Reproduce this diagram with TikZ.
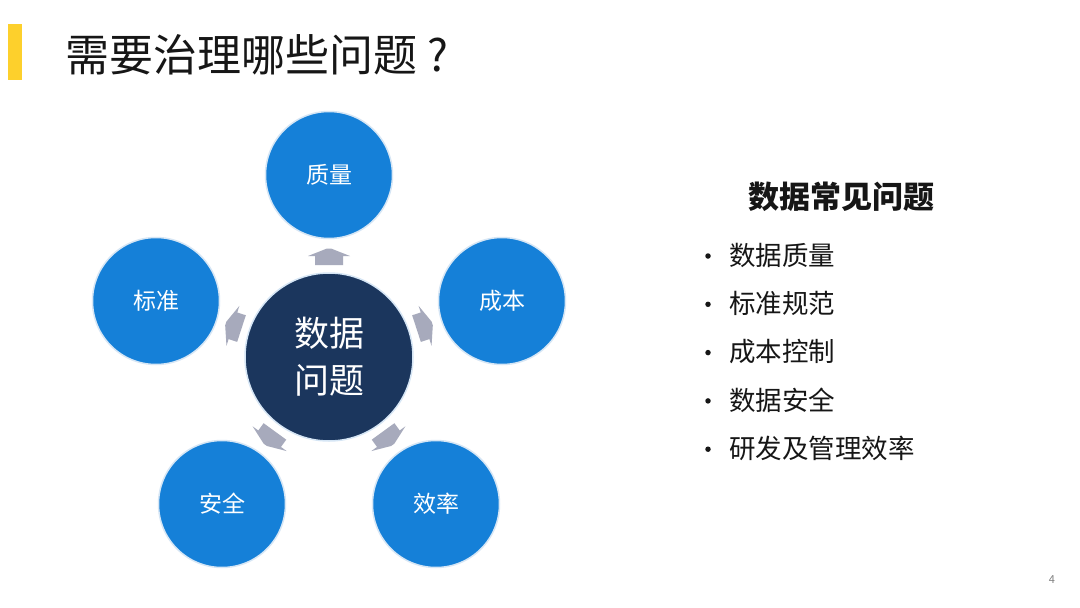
\documentclass[tikz,border=0pt]{standalone}
\usepackage{fontspec}
\setmainfont{Noto Sans CJK SC}
\definecolor{barY}{HTML}{FDD02C}
\definecolor{cblue}{HTML}{1580D8}
\definecolor{cborder}{HTML}{D6E6F5}
\definecolor{navy}{HTML}{1B365D}
\definecolor{agray}{HTML}{A7AABC}
\definecolor{txt}{HTML}{161616}
\tikzset{
  outer/.style={circle, fill=cblue, draw=cborder, line width=1.5pt, minimum size=127pt, inner sep=0pt, text=white, font=\fontsize{23}{26}\selectfont},
  core/.style={circle, fill=navy, draw=cborder, line width=1.5pt, minimum size=168pt, inner sep=0pt, text=white, align=center, font=\fontsize{35}{47}\selectfont},
  blockarrow/.style={fill=agray, draw=none},
  item/.style={anchor=west, inner sep=0pt, text=txt, font=\fontsize{26.5}{30}\selectfont},
  dot/.style={circle, fill=txt, minimum size=5.5pt, inner sep=0pt}
}
\begin{document}
\begin{tikzpicture}[x=1pt,y=-1pt]
\useasboundingbox[fill=white] (0,0) rectangle (1080,608);
% title
\fill[barY] (8,24) rectangle (22,80);
\node[anchor=west, inner sep=0pt, text=txt, font=\fontsize{44}{50}\selectfont] (title) at (65,55) {需要治理哪些问题\hspace{10pt}?};
% circles
\node[core] (c) at (329,357) {数据\\问题};
\node[outer] (q) at (329,175) {质量};
\node[outer] (b) at (502,301) {成本};
\node[outer] (s) at (156,301) {标准};
\node[outer] (a) at (222,504) {安全};
\node[outer] (e) at (436,504) {效率};
% block arrows
\foreach \r in {0,72,-72,144,-144}{
  \begin{scope}[shift={(c.center)}, rotate=\r]
    \fill[blockarrow] (-14,-92) -- (-14,-101) -- (-21,-101) -- (-2,-108.5) -- (2,-108.5) -- (21,-101) -- (14,-101) -- (14,-92) -- cycle;
  \end{scope}
}
% right list
\node[inner sep=0pt, text=txt, font=\fontsize{31}{34}\selectfont\bfseries] (head) at (841,197) {数据常见问题};
\foreach \t [count=\i] in {数据质量,标准规范,成本控制,数据安全,研发及管理效率}{
  \node[dot] (d\i) at (708,{256+48.3*(\i-1)}) {};
  \node[item] (t\i) at (729,{255+48.3*(\i-1)}) {\t};
}
\node[inner sep=0pt, text=gray, font=\fontsize{11}{12}\selectfont] (pg) at (1052,580) {4};
\end{tikzpicture}
\end{document}
